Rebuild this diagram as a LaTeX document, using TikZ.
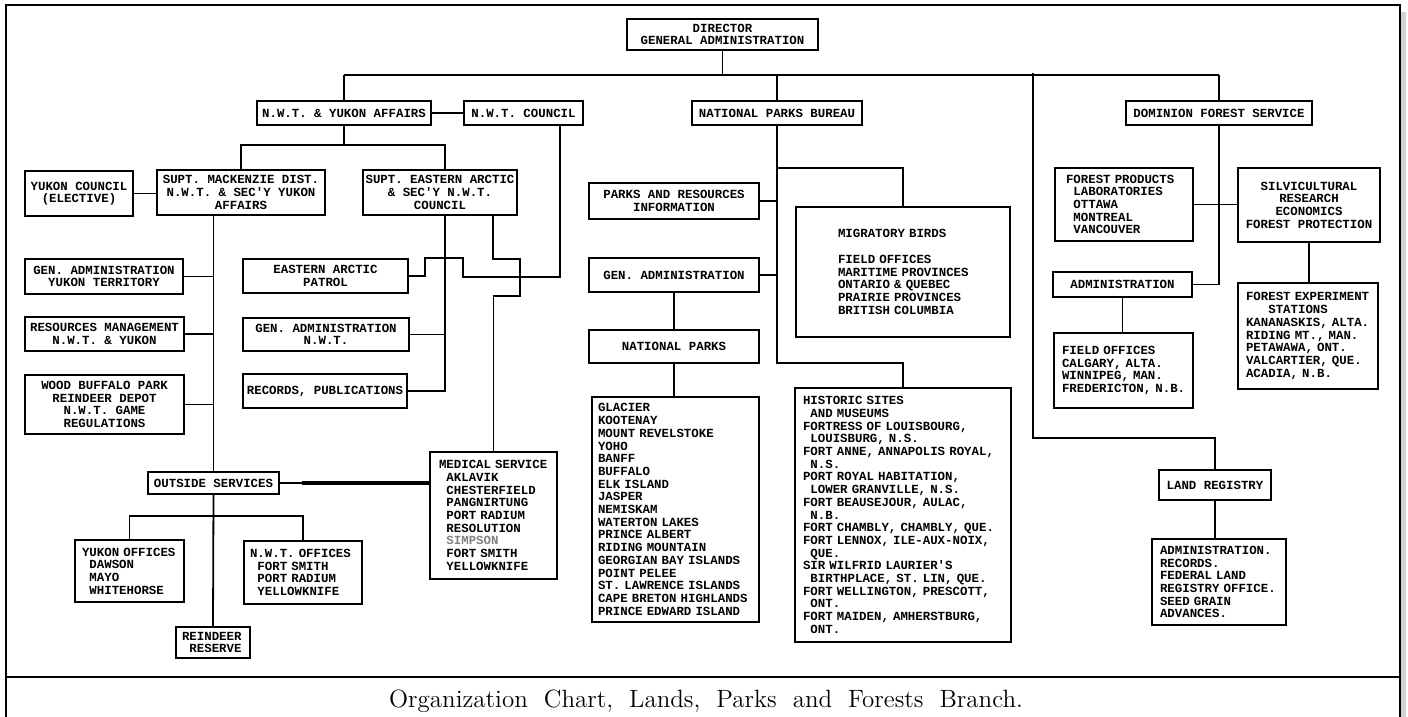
\documentclass[tikz,border=0pt]{standalone}
\usepackage{fontspec}
\setmonofont{Liberation Mono}
\newcommand\chartfont{\ttfamily\bfseries\fontsize{6.2}{6.35}\selectfont\hyphenpenalty=10000\exhyphenpenalty=10000}
\newcommand\ind{\hphantom{X}}
% centred box: name, x1, y1, x2, y2, options, text
\newcommand\mkbox[7]{%
  \pgfmathsetmacro\bxcx{(#2+#4)/2}%
  \pgfmathsetmacro\bxcy{(#3+#5)/2}%
  \pgfmathsetmacro\bxw{(#4-#2)/2}%
  \pgfmathsetmacro\bxh{(#5-#3)/2}%
  \node[box,minimum width=\bxw pt,minimum height=\bxh pt,#6] (#1) at (\bxcx,\bxcy) {#7};}
% left aligned list box: name, x1, y1, x2, y2, left pad (px), text
\newcommand\mklist[7]{%
  \pgfmathsetmacro\bxcx{(#2+#4)/2}%
  \pgfmathsetmacro\bxcy{(#3+#5)/2}%
  \pgfmathsetmacro\bxw{(#4-#2)/2}%
  \pgfmathsetmacro\bxh{(#5-#3)/2}%
  \pgfmathsetmacro\bxp{#6/2}%
  \pgfmathsetmacro\bxt{\bxw-2*\bxp}%
  \node[box,align=left,inner xsep=\bxp pt,text width=\bxt pt,minimum height=\bxh pt] (#1) at (\bxcx,\bxcy) {#7};}
\begin{document}
\begin{tikzpicture}[x=0.5pt,y=-0.5pt,
  box/.style={draw,line width=0.7pt,font=\chartfont,inner xsep=1pt,inner ysep=1pt,align=center},
  conn/.style={line width=0.9pt},
  thickconn/.style={line width=2pt},
  framel/.style={line width=1pt}]
\useasboundingbox (0,0) rectangle (1408,717);
% frame
\fill[gray!35] (1401,12) rectangle (1406,717);
\draw[framel] (6,717) -- (6,5) -- (1400,5) -- (1400,717);
\draw[framel] (6,677) -- (1400,677);
\node[anchor=base,font=\fontsize{12.5}{15}\selectfont,execute at begin node={\spaceskip=8pt\xspaceskip=8pt}] (cap) at (706,707) {Organization Chart, Lands, Parks and Forests Branch.};

% top level
\mkbox{dir}{627}{19}{818}{50}{}{DIRECTOR\\GENERAL ADMINISTRATION}
\mkbox{ya}{257}{101}{431}{125}{}{N.W.T. \& YUKON AFFAIRS}
\mkbox{nwtc}{464}{101}{583}{125}{}{N.W.T. COUNCIL}
\mkbox{npb}{692}{101}{862}{125}{}{NATIONAL PARKS BUREAU}
\mkbox{dfs}{1126}{101}{1312}{125}{}{DOMINION FOREST SERVICE}

% N.W.T. & Yukon side
\mkbox{yc}{25}{171}{133}{216}{}{YUKON COUNCIL\\(ELECTIVE)}
\mkbox{sm}{157}{170}{325}{215}{}{SUPT. MACKENZIE DIST.\\N.W.T. \& SEC'Y YUKON\\AFFAIRS}
\mkbox{se}{363}{170}{517}{215}{}{SUPT. EASTERN ARCTIC\\\& SEC'Y N.W.T.\\COUNCIL}
\mkbox{gay}{25}{259}{183}{294}{}{GEN. ADMINISTRATION\\YUKON TERRITORY}
\mkbox{rm}{25}{317}{184}{351}{}{RESOURCES MANAGEMENT\\N.W.T. \& YUKON}
\mkbox{wb}{25}{375}{184}{434}{}{WOOD BUFFALO PARK\\REINDEER DEPOT\\N.W.T. GAME\\REGULATIONS}
\mkbox{eap}{243}{259}{408}{293}{}{EASTERN ARCTIC\\PATROL}
\mkbox{gan}{243}{318}{409}{351}{}{GEN. ADMINISTRATION\\N.W.T.}
\mkbox{rec}{243}{374}{407}{408}{}{RECORDS, PUBLICATIONS}
\mkbox{os}{148}{472}{279}{494}{}{OUTSIDE SERVICES}
\mklist{med}{430}{452}{557}{579}{9}{MEDICAL~SERVICE\\\ind AKLAVIK\\\ind CHESTERFIELD\\\ind PANGNIRTUNG\\\ind PORT~RADIUM\\\ind RESOLUTION\\\ind \textcolor{gray}{SIMPSON}\\\ind FORT~SMITH\\\ind YELLOWKNIFE}
\mklist{yo}{75}{540}{184}{602}{7}{YUKON~OFFICES\\\ind DAWSON\\\ind MAYO\\\ind WHITEHORSE}
\mklist{no}{244}{541}{362}{604}{6}{N.W.T.~OFFICES\\\ind FORT~SMITH\\\ind PORT~RADIUM\\\ind YELLOWKNIFE}
\mklist{rr}{176}{627}{250}{658}{6}{REINDEER\\\ind RESERVE}

% National Parks side
\mkbox{pri}{589}{183}{759}{219}{}{PARKS AND RESOURCES\\INFORMATION}
\mkbox{ga}{589}{258}{759}{292}{}{GEN. ADMINISTRATION}
\mkbox{np}{589}{330}{759}{363}{}{NATIONAL PARKS}
\mklist{pl}{592}{397}{759}{622}{6}{GLACIER\\KOOTENAY\\MOUNT~REVELSTOKE\\YOHO\\BANFF\\BUFFALO\\ELK~ISLAND\\JASPER\\NEMISKAM\\WATERTON~LAKES\\PRINCE~ALBERT\\RIDING~MOUNTAIN\\GEORGIAN~BAY~ISLANDS\\POINT~PELEE\\ST.~LAWRENCE~ISLANDS\\CAPE~BRETON~HIGHLANDS\\PRINCE~EDWARD~ISLAND}
\mklist{mig}{796}{207}{1010}{337}{42}{MIGRATORY~BIRDS\\[6.35pt]FIELD~OFFICES\\MARITIME~PROVINCES\\ONTARIO~\&~QUEBEC\\PRAIRIE~PROVINCES\\BRITISH~COLUMBIA}
\mklist{hist}{795}{388}{1011}{642}{8}{HISTORIC~SITES\\\ind AND~MUSEUMS\\FORTRESS~OF~LOUISBOURG,\\\ind LOUISBURG,~N.S.\\FORT~ANNE,~ANNAPOLIS~ROYAL,\\\ind N.S.\\PORT~ROYAL~HABITATION,\\\ind LOWER~GRANVILLE,~N.S.\\FORT~BEAUSEJOUR,~AULAC,\\\ind N.B.\\FORT~CHAMBLY,~CHAMBLY,~QUE.\\FORT~LENNOX,~ILE-AUX-NOIX,\\\ind QUE.\\SIR~WILFRID~LAURIER'S\\\ind BIRTHPLACE,~ST.~LIN,~QUE.\\FORT~WELLINGTON,~PRESCOTT,\\\ind ONT.\\FORT~MAIDEN,~AMHERSTBURG,\\\ind ONT.}

% Forest side
\mklist{fp}{1055}{168}{1193}{241}{11}{FOREST~PRODUCTS\\\ind LABORATORIES\\\ind OTTAWA\\\ind MONTREAL\\\ind VANCOUVER}
\mkbox{sv}{1238}{168}{1380}{242}{}{SILVICULTURAL\\RESEARCH\\ECONOMICS\\FOREST PROTECTION}
\mkbox{adm}{1053}{272}{1192}{297}{}{ADMINISTRATION}
\mklist{fo}{1054}{333}{1193}{408}{8}{FIELD~OFFICES\\CALGARY,~ALTA.\\WINNIPEG,~MAN.\\FREDERICTON,~N.B.}
\mklist{fe}{1238}{283}{1378}{389}{8}{FOREST~EXPERIMENT\\\ind\ind\ind STATIONS\\KANANASKIS,~ALTA.\\RIDING~MT.,~MAN.\\PETAWAWA,~ONT.\\VALCARTIER,~QUE.\\ACADIA,~N.B.}
\mkbox{lr}{1159}{470}{1271}{500}{}{LAND REGISTRY}
\mklist{lrc}{1152}{539}{1286}{625}{8}{ADMINISTRATION.\\RECORDS.\\FEDERAL~LAND\\REGISTRY~OFFICE.\\SEED~GRAIN\\ADVANCES.}

% helper coordinates
\coordinate (bus) at (0,75);
\coordinate (b2) at (344,145);
\coordinate (vA) at (445,0);
\coordinate (vB) at (493,0);
\coordinate (vC) at (560,0);
\coordinate (lrv) at (1033,73);
\coordinate (lrb) at (1033,438);
\coordinate (ob) at (213,516);
\coordinate (mb) at (0,168);
\coordinate (hb) at (0,363);

% top connectors
\draw[conn] (ya.north |- bus) -- (dfs.north |- bus);
\draw[conn] (dir.south) -- (dir.south |- bus);
\draw[conn] (ya.north) -- (ya.north |- bus);
\draw[conn] (npb.north) -- (npb.north |- bus);
\draw[conn] (dfs.north) -- (dfs.north |- bus);
\draw[conn] (lrv) -- (lrb) -| (lr.north);

% N.W.T. & Yukon connectors
\draw[conn] (ya.east) -- (nwtc.west);
\draw[conn] (ya.south) -- (b2);
\draw[conn] (sm.north) |- (b2) -| (se.north -| vA);
\draw[conn] (yc.east) -- (yc.east -| sm.west);
\draw[conn] (sm.south -| os.north) -- (os.north);
\draw[conn] (gay.east) -- (gay.east -| os.north);
\draw[conn] (rm.east) -- (rm.east -| os.north);
\draw[conn] (wb.east) -- (wb.east -| os.north);
\draw[conn] (se.south -| vA) -- (rec.east -| vA) -- (rec.east);
\draw[conn] (gan.east) -- (gan.east -| vA);
\draw[conn] (nwtc.south -| vC) -- (560,277) -- (463,277) -- (463,258) -- (425,258) -- (425,276) -- (eap.east);
\draw[conn] (se.south -| vB) -- (493,259) -- (520,259) -- (520,296) -| (med.north);
\path (os.east) ++(22,0) coordinate (osm);
\draw[conn] (os.east) -- (osm);
\draw[thickconn] (osm) -- (osm -| med.west);
\draw[conn] (os.south) -- (rr.north);
\draw[conn] (yo.north) |- (ob) -| (no.north);

% National Parks connectors
\draw[conn] (npb.south) -- (npb.south |- hb) -| (hist.north);
\draw[conn] (npb.south |- mb) -| (mig.north);
\draw[conn] (pri.east) -- (pri.east -| npb.south);
\draw[conn] (ga.east) -- (ga.east -| npb.south);
\draw[conn] (ga.south) -- (np.north);
\draw[conn] (np.south) -- (np.south |- pl.north);

% Forest connectors
\draw[conn] (dfs.south) -- (dfs.south |- adm.east) -- (adm.east);
\draw[conn] (fp.east) -- (fp.east -| sv.west);
\draw[conn] (sv.south) -- (sv.south |- fe.north);
\draw[conn] (adm.south) -- (adm.south |- fo.north);
\draw[conn] (lr.south) -- (lr.south |- lrc.north);
\end{tikzpicture}
\end{document}
